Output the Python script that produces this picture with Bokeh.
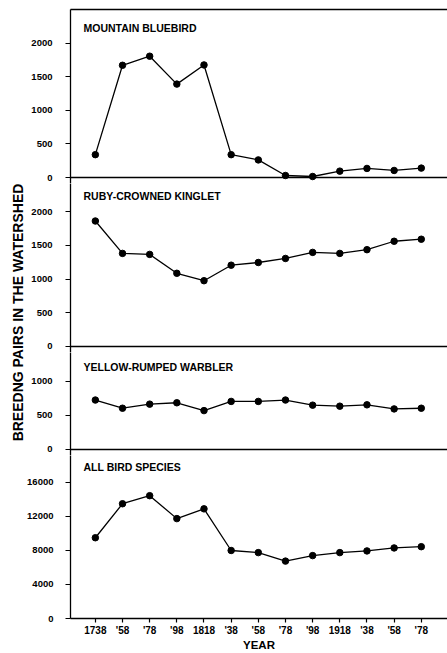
import math
from bokeh.plotting import figure
from bokeh.layouts import column, row
from bokeh.models import Range1d, FixedTicker, LinearAxis, Label, Span
from bokeh.core.properties import value
from bokeh.embed import file_html
from bokeh.resources import INLINE

# ---- data ----
years = [1738, 1758, 1778, 1798, 1818, 1838, 1858, 1878, 1898, 1918, 1938, 1958, 1978]
year_labels = ["1738", "'58", "'78", "'98", "1818", "'38", "'58", "'78", "'98", "1918", "'38", "'58", "'78"]
bluebird = [340, 1670, 1805, 1390, 1675, 340, 262, 30, 15, 95, 135, 105, 140]
kinglet = [1860, 1380, 1365, 1085, 975, 1205, 1245, 1305, 1395, 1380, 1435, 1560, 1590]
warbler = [725, 605, 665, 685, 570, 705, 705, 725, 650, 635, 655, 595, 605]
all_species = [9500, 13500, 14450, 11750, 12900, 8000, 7750, 6750, 7400, 7750, 7950, 8300, 8450]
panel_titles = ["MOUNTAIN BLUEBIRD", "RUBY-CROWNED KINGLET", "YELLOW-RUMPED WARBLER", "ALL BIRD SPECIES"]
series = [bluebird, kinglet, warbler, all_species]
y_start = [-89, -89, -88, 0]
y_end = [2500, 2416, 1422, 19176]
y_ticks = [[0, 500, 1000, 1500, 2000], [0, 500, 1000, 1500, 2000], [0, 500, 1000],
           [0, 4000, 8000, 12000, 16000]]
y_label = "BREEDNG PAIRS IN THE WATERSHED"
x_label = "YEAR"

FONT = "Liberation Sans"
x_range = Range1d(1719.7, 1997.3)

label_w = 24
panel_w = 423
heights = [183, 169, 103, 198]
title_gap = [12.3, 6.7, 8.7, 5.7]
total_h = sum(heights)

panels = []
for i in range(4):
    last = (i == 3)
    p = figure(width=panel_w, height=heights[i], x_range=x_range,
               y_range=Range1d(y_start[i], y_end[i]), output_backend="svg",
               toolbar_location=None, x_axis_type=None)
    p.min_border = 0
    p.min_border_left = 44
    p.min_border_right = 0
    p.min_border_bottom = 0
    p.min_border_top = 9 if i == 0 else 0
    p.outline_line_color = None
    p.background_fill_color = "white"
    p.border_fill_color = "white"
    p.xgrid.visible = False
    p.ygrid.visible = False

    ya = p.yaxis[0]
    ya.ticker = FixedTicker(ticks=y_ticks[i])
    ya.minor_tick_line_color = None
    ya.major_tick_in = 0
    ya.major_tick_out = 5
    ya.major_label_standoff = 12 if last else 13
    ya.major_label_text_font = FONT
    ya.major_label_text_font_style = "bold"
    ya.major_label_text_font_size = "9.5px"
    ya.major_label_text_color = "black"
    ya.axis_line_color = "black"
    ya.axis_line_width = 1.3
    ya.major_tick_line_color = "black"
    ya.major_tick_line_width = 1.2

    if last:
        xa = LinearAxis(ticker=FixedTicker(ticks=years),
                        major_label_overrides={y: l for y, l in zip(years, year_labels)})
        xa.major_tick_in = 0
        xa.major_tick_out = 4
        xa.major_label_standoff = 2
        xa.major_label_text_font = FONT
        xa.major_label_text_font_style = "bold"
        xa.major_label_text_font_size = "10px"
        xa.major_label_text_color = "black"
        xa.axis_label = x_label
        xa.axis_label_standoff = 0
        xa.axis_label_text_font = FONT
        xa.axis_label_text_font_style = "bold"
        xa.axis_label_text_font_size = "11.5px"
        xa.axis_label_text_color = "black"
        xa.minor_tick_line_color = None
        xa.axis_line_color = "black"
        xa.axis_line_width = 1.3
        xa.major_tick_line_color = "black"
        xa.major_tick_line_width = 1.2
        p.add_layout(xa, "below")
    else:
        p.add_layout(Span(location=0, dimension="width", line_color="black", line_width=1.3))

    if i == 0:
        top = LinearAxis(ticker=FixedTicker(ticks=[]))
        top.major_tick_out = 0
        top.major_tick_in = 0
        top.major_label_standoff = 0
        top.major_label_text_font_size = "0px"
        top.minor_tick_line_color = None
        top.axis_line_color = "black"
        top.axis_line_width = 1.3
        p.add_layout(top, "above")

    p.line(years, series[i], line_color="black", line_width=1.3)
    p.scatter(years, series[i], marker="circle", size=6.5, fill_color="black", line_color="black")

    title = Label(x=13, x_units="screen", y=y_end[i], y_units="data", y_offset=-title_gap[i],
                  text=panel_titles[i], text_baseline="top", text_align="left",
                  text_font=FONT, text_font_style="bold", text_font_size="10.5px",
                  text_color="black")
    p.add_layout(title)
    panels.append(p)

lab = figure(width=label_w, height=total_h, x_range=Range1d(0, label_w),
             y_range=Range1d(0, total_h), output_backend="svg", toolbar_location=None,
             x_axis_type=None, y_axis_type=None)
lab.min_border = 0
lab.outline_line_color = None
lab.xgrid.visible = False
lab.ygrid.visible = False
lab.text(x=[17], y=[total_h - 312], text=[y_label], angle=math.pi / 2,
         text_align="center", text_baseline="middle", text_font=value(FONT),
         text_font_style="bold", text_font_size="14px", text_color="black")

layout = row(lab, column(*panels, spacing=0), spacing=0)
open("out.html", "w").write(file_html(layout, INLINE))
